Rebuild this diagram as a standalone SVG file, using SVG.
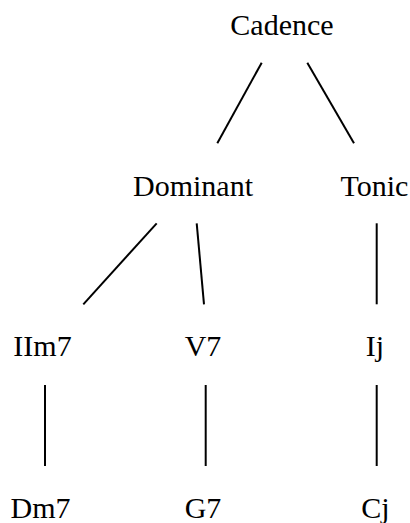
<svg xmlns="http://www.w3.org/2000/svg" width="410" height="523" viewBox="0 0 410 523">
<style>
text{font-family:"Liberation Serif","Times New Roman",serif;font-size:30px;fill:#000;text-anchor:middle}
line{stroke:#000;stroke-width:2}
</style>
<rect width="410" height="523" fill="#fff"/>
<g id="connectors">
<line x1="261.7" y1="62.7" x2="217.3" y2="143.3"/>
<line x1="307.3" y1="62.7" x2="354" y2="143.3"/>
<line x1="156.7" y1="223.3" x2="83.3" y2="304.3"/>
<line x1="196.7" y1="223.3" x2="204" y2="304.3"/>
<line x1="376.7" y1="223.3" x2="376.7" y2="304.3"/>
<line x1="45" y1="385" x2="45" y2="466"/>
<line x1="205.7" y1="385" x2="205.7" y2="466"/>
<line x1="376.7" y1="385" x2="376.7" y2="466"/>
</g>
<g id="cadence"><text x="282" y="35">Cadence</text></g>
<g id="dominant"><text x="193" y="195.5">Dominant</text></g>
<g id="tonic"><text x="374.5" y="195.5">Tonic</text></g>
<g id="iim7"><text x="42.5" y="355.5">IIm7</text></g>
<g id="v7"><text x="203" y="355.5">V7</text></g>
<g id="ij"><text x="375" y="355.5">Ij</text></g>
<g id="dm7"><text x="40.5" y="518">Dm7</text></g>
<g id="g7"><text x="203" y="518">G7</text></g>
<g id="cj"><text x="375.5" y="518">Cj</text></g>
</svg>
